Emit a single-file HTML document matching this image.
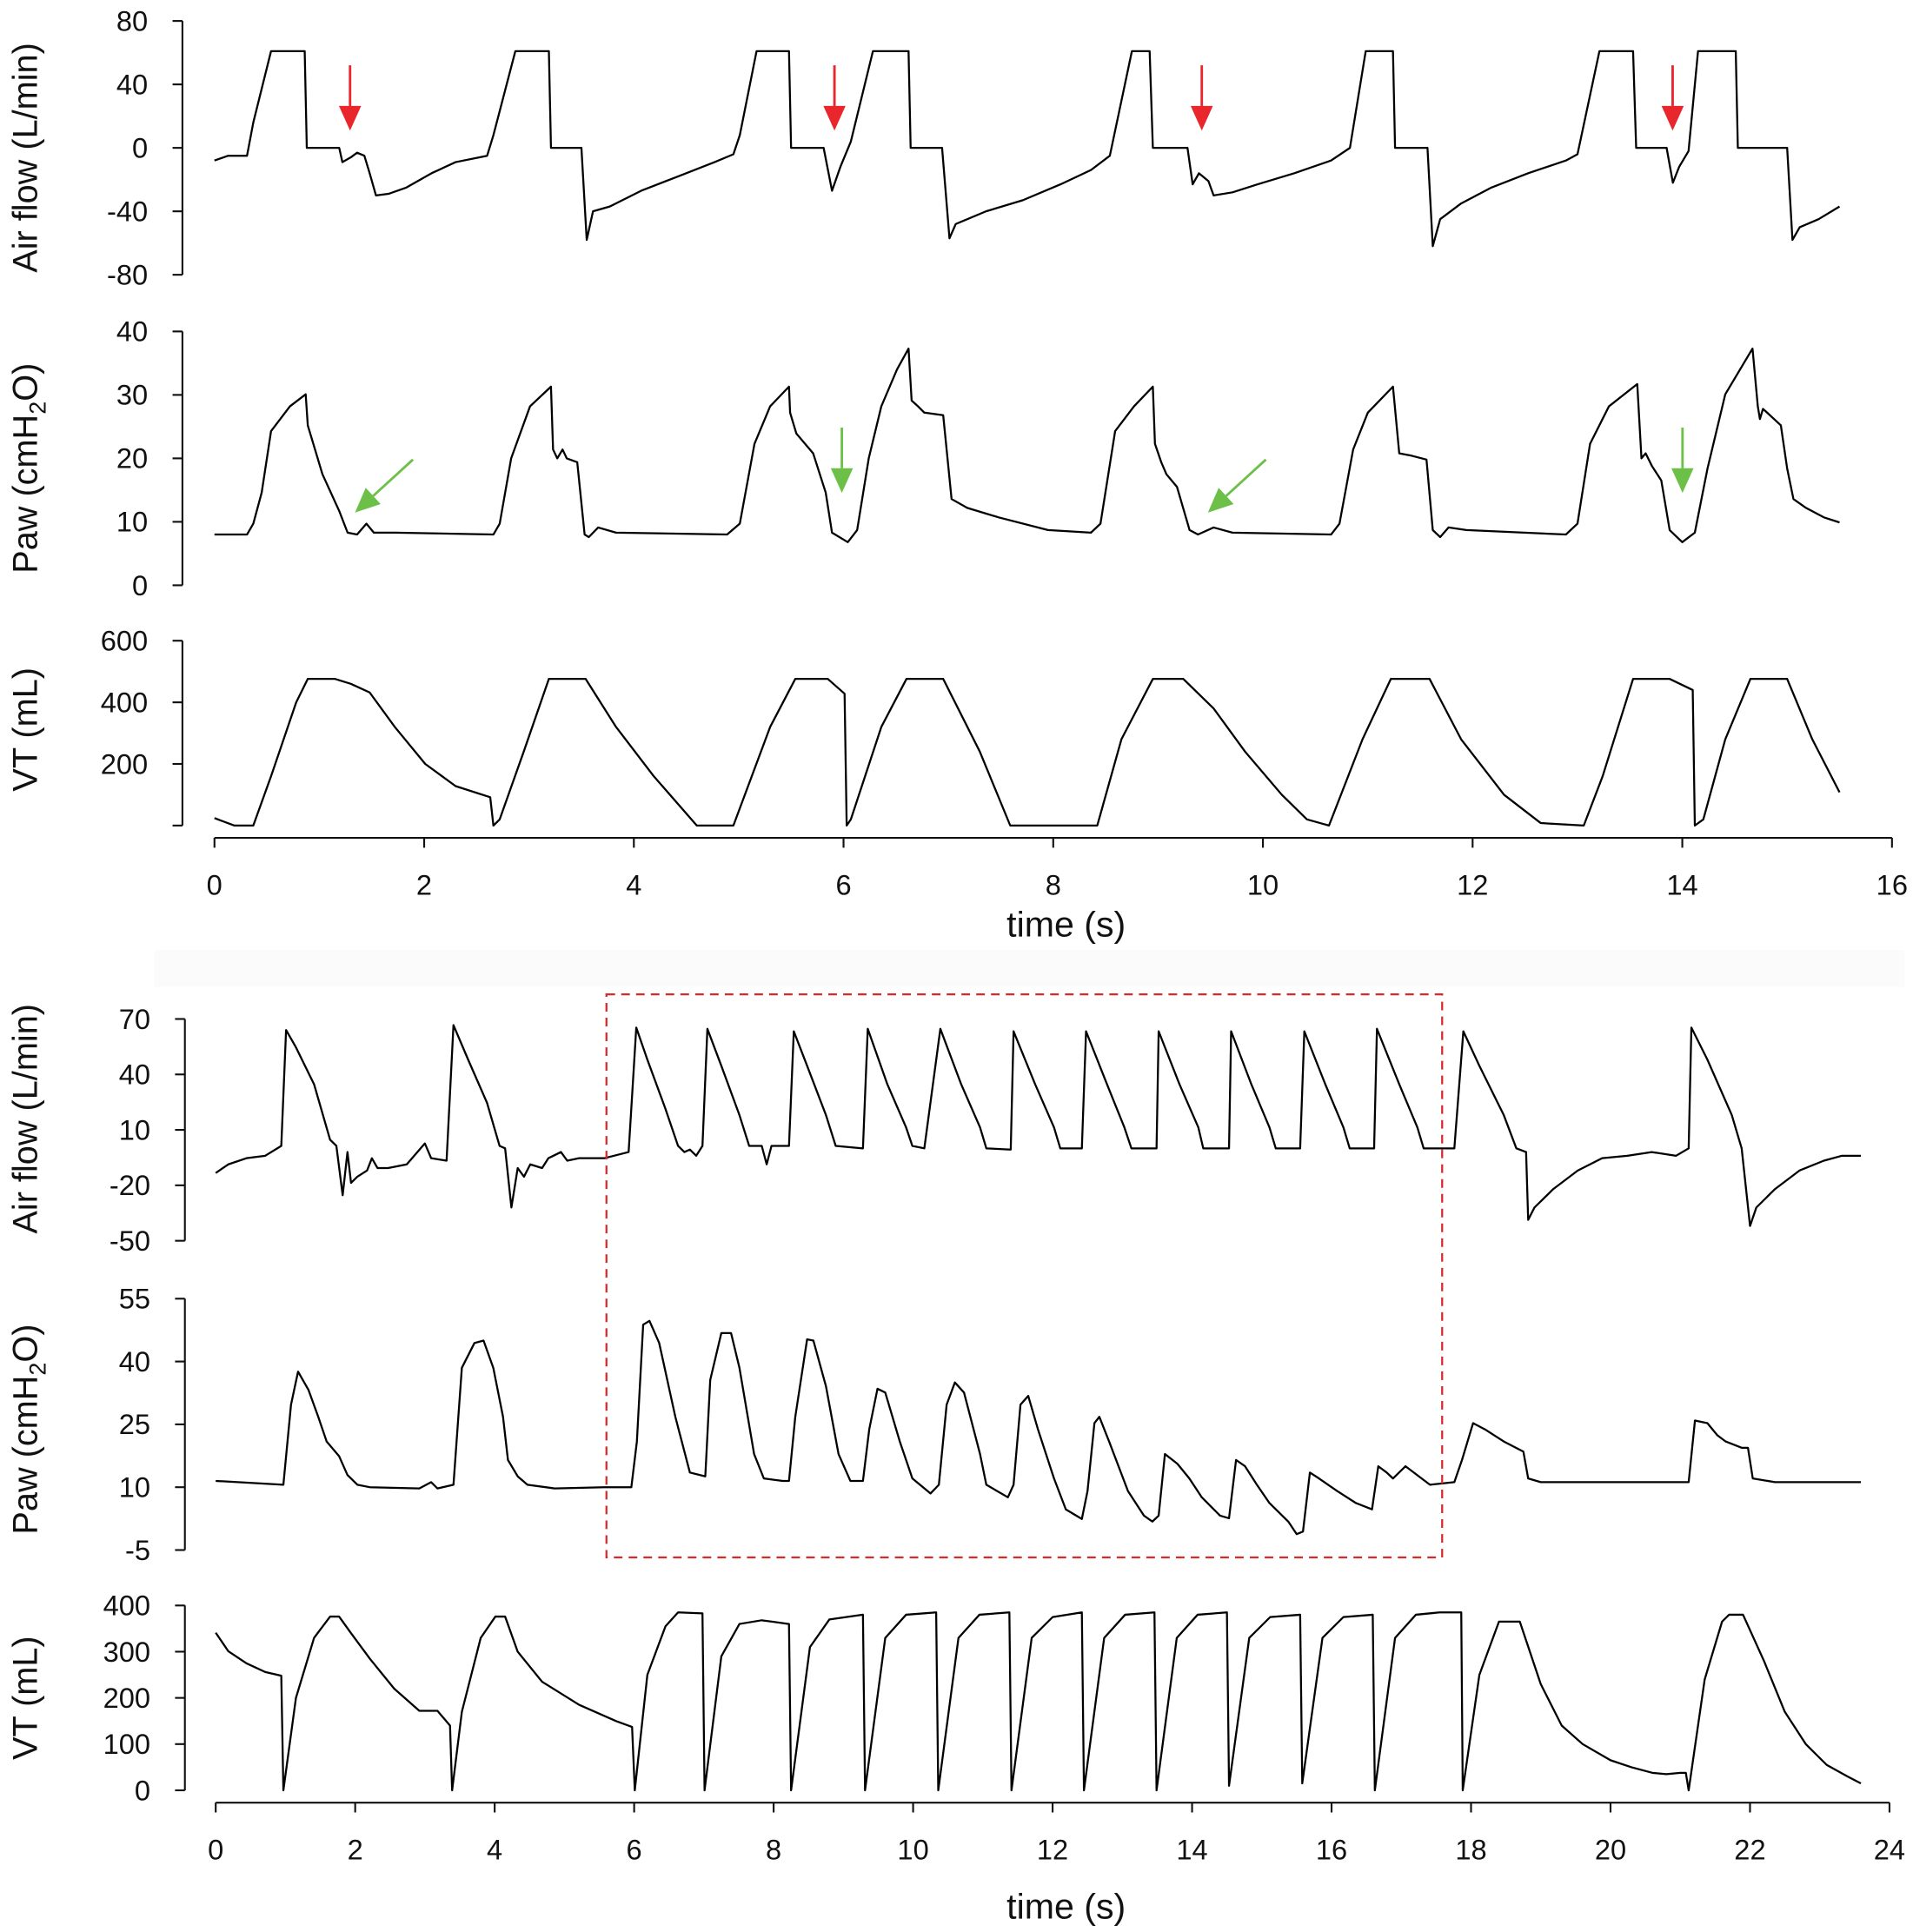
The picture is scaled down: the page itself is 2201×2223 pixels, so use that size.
<!DOCTYPE html>
<html><head><meta charset="utf-8"><style>
html,body{margin:0;padding:0;background:#fff}
svg{display:block}
text{font-family:"Liberation Sans",Arial,sans-serif;fill:#111}
</style></head><body>
<svg id="chart" width="2201" height="2223" viewBox="0 0 1552 1568" preserveAspectRatio="none" xmlns="http://www.w3.org/2000/svg">
<rect x="125" y="771" width="1420" height="30" fill="#fcfbfb"/>
<g id="root"></g>
</svg>
<script>
// ---------- DATA ----------
const topXTicks=[0,2,4,6,8,10,12,14,16];
const botXTicks=[0,2,4,6,8,10,12,14,16,18,20,22,24];
const topFlowTicks=[80,40,0,-40,-80];
const topPawTicks=[40,30,20,10,0];
const topVtTicks=[600,400,200];
const botFlowTicks=[70,40,10,-20,-50];
const botPawTicks=[55,40,25,10,-5];
const botVtTicks=[400,300,200,100,0];

const topFlow=[[0,-8],[0.13,-5],[0.31,-5],[0.37,16],[0.54,61],[0.86,61],[0.88,0],[1.19,0],[1.22,-9],[1.30,-6],[1.36,-3],[1.43,-5],[1.48,-16],[1.54,-30],[1.66,-29],[1.83,-25],[2.07,-16],[2.30,-9],[2.60,-5],[2.66,8],[2.87,61],[3.19,61],[3.21,0],[3.50,0],[3.55,-58],[3.61,-40],[3.77,-37],[4.07,-27],[4.42,-18],[4.77,-9],[4.95,-4],[5.01,8],[5.17,61],[5.48,61],[5.50,0],[5.81,0],[5.89,-27],[5.97,-12],[6.07,4],[6.28,61],[6.62,61],[6.64,0],[6.94,0],[7.01,-57],[7.07,-48],[7.36,-40],[7.71,-33],[8.07,-23],[8.36,-14],[8.54,-5],[8.75,61],[8.92,61],[8.95,0],[9.28,0],[9.33,-23],[9.39,-16],[9.48,-21],[9.53,-30],[9.71,-28],[9.95,-23],[10.30,-16],[10.65,-8],[10.83,0],[10.98,61],[11.24,61],[11.26,0],[11.57,0],[11.62,-62],[11.69,-45],[11.89,-35],[12.18,-25],[12.53,-16],[12.89,-8],[13.00,-4],[13.21,61],[13.53,61],[13.56,0],[13.85,0],[13.91,-22],[13.97,-12],[14.06,-2],[14.15,61],[14.51,61],[14.53,0],[15.00,0],[15.05,-58],[15.12,-50],[15.30,-45],[15.50,-37]];

const topPaw=[[0,8],[0.31,8],[0.37,9.7],[0.45,14.6],[0.54,24.3],[0.72,28.2],[0.87,30.1],[0.89,25.2],[1.03,17.5],[1.19,11.7],[1.27,8.3],[1.36,8],[1.45,9.7],[1.52,8.3],[1.72,8.3],[2.66,8],[2.72,9.7],[2.83,20],[3.01,28.2],[3.21,31.3],[3.23,21.4],[3.27,20],[3.32,21.4],[3.36,20],[3.46,19.4],[3.53,8],[3.57,7.6],[3.66,9.1],[3.83,8.3],[4.89,8],[5.01,9.7],[5.15,22.3],[5.30,28.2],[5.48,31.3],[5.49,27.2],[5.55,23.9],[5.71,20.8],[5.83,14.6],[5.89,8.3],[6.04,6.8],[6.13,8.7],[6.24,20],[6.36,28.2],[6.51,34],[6.62,37.3],[6.65,29.1],[6.71,28.2],[6.77,27.2],[6.95,26.8],[7.03,13.6],[7.18,12.2],[7.48,10.7],[7.95,8.7],[8.36,8.3],[8.45,9.7],[8.59,24.3],[8.77,28.2],[8.95,31.3],[8.97,22.3],[9.03,19.4],[9.08,17.5],[9.18,15.5],[9.30,8.7],[9.38,8],[9.53,9.1],[9.71,8.3],[10.65,8],[10.73,9.7],[10.86,21.4],[11.00,27.2],[11.24,31.3],[11.30,20.8],[11.42,20.4],[11.56,19.8],[11.62,8.7],[11.69,7.6],[11.77,9.1],[11.94,8.7],[12.89,8],[13.00,9.7],[13.12,22.3],[13.30,28.2],[13.57,31.7],[13.61,20],[13.65,20.8],[13.71,18.8],[13.80,16.5],[13.88,8.7],[14.00,6.8],[14.12,8.3],[14.24,18.4],[14.41,30.1],[14.67,37.3],[14.72,28.2],[14.74,26.2],[14.77,27.8],[14.94,25.2],[15.00,18.4],[15.06,13.6],[15.18,12.2],[15.35,10.7],[15.50,9.9]];

const topVt=[[0,24],[0.19,0],[0.37,0],[0.54,160],[0.78,400],[0.89,476],[1.15,476],[1.30,460],[1.48,432],[1.72,320],[2.01,200],[2.30,128],[2.63,92],[2.66,0],[2.72,20],[2.95,240],[3.19,476],[3.54,476],[3.83,320],[4.19,160],[4.60,0],[4.95,0],[5.30,320],[5.54,476],[5.85,476],[6.01,428],[6.03,0],[6.07,20],[6.36,320],[6.60,476],[6.95,476],[7.30,240],[7.59,0],[8.42,0],[8.65,280],[8.95,476],[9.24,476],[9.53,380],[9.83,240],[10.18,100],[10.42,20],[10.63,0],[10.95,280],[11.22,476],[11.59,476],[11.89,280],[12.30,100],[12.65,8],[13.06,0],[13.24,160],[13.53,476],[13.88,476],[14.10,440],[14.12,0],[14.20,20],[14.41,280],[14.65,476],[15.00,476],[15.24,280],[15.50,108]];

const botFlow=[[0,-13.3],[0.18,-8.7],[0.44,-5.3],[0.71,-4],[0.94,1.3],[1.01,64],[1.15,54.7],[1.41,34.7],[1.64,4.7],[1.73,1.3],[1.82,-25.3],[1.89,-2],[1.94,-18.7],[2.03,-15.3],[2.17,-12],[2.24,-5.3],[2.32,-10.7],[2.47,-10.7],[2.74,-8.7],[3.00,2.7],[3.09,-5.3],[3.31,-6.7],[3.41,66.7],[3.62,48],[3.89,24.7],[4.07,1.3],[4.15,0],[4.24,-32],[4.33,-10.7],[4.42,-15.3],[4.51,-8.7],[4.68,-10.7],[4.77,-5.3],[4.95,-2],[5.04,-6.7],[5.21,-5.3],[5.57,-5.3],[5.92,-2],[6.03,65.3],[6.19,48],[6.45,21.3],[6.63,1.3],[6.72,-2],[6.80,-0.7],[6.89,-4],[6.98,1.3],[7.05,64.7],[7.25,44.7],[7.51,18],[7.65,1.3],[7.83,1.3],[7.90,-8.7],[7.97,1.3],[8.22,1.3],[8.29,63.3],[8.48,44.7],[8.75,18],[8.89,1.3],[9.28,0],[9.35,64.7],[9.63,34.7],[9.90,11.3],[9.99,1.3],[10.16,0],[10.39,64.7],[10.69,34.7],[10.96,11.3],[11.05,0],[11.40,-0.7],[11.44,63.3],[11.75,34.7],[12.02,11.3],[12.11,0],[12.42,0],[12.48,63.3],[12.78,34.7],[13.03,11.3],[13.13,0],[13.49,0],[13.52,63.3],[13.82,34.7],[14.09,11.3],[14.16,0],[14.53,0],[14.56,63.3],[14.85,34.7],[15.11,11.3],[15.20,0],[15.55,0],[15.61,63.3],[15.91,34.7],[16.17,11.3],[16.26,0],[16.61,0],[16.65,64.7],[16.97,34.7],[17.23,11.3],[17.32,0],[17.59,0],[17.76,0],[17.89,63.3],[18.12,44.7],[18.47,18],[18.65,0],[18.79,-2],[18.82,-38.7],[18.91,-32],[19.18,-22],[19.53,-12],[19.88,-5.3],[20.24,-4],[20.59,-2],[20.94,-4],[21.12,0],[21.16,65.3],[21.39,48],[21.74,18],[21.88,0],[22.00,-42],[22.09,-32],[22.36,-22],[22.71,-12],[23.06,-6.7],[23.32,-4],[23.59,-4]];

const botPaw=[[0,11.5],[0.97,10.6],[1.08,29.7],[1.18,37.6],[1.33,33.2],[1.47,26.8],[1.59,20.9],[1.77,17.4],[1.89,12.9],[1.94,12.1],[2.03,10.6],[2.21,10],[2.92,9.7],[3.09,11.2],[3.18,9.7],[3.41,10.6],[3.53,38.5],[3.71,44.4],[3.84,45],[3.98,38.5],[4.12,26.8],[4.19,16.5],[4.33,12.6],[4.47,10.6],[4.86,9.7],[5.57,10],[5.96,10],[6.04,20.9],[6.13,48.8],[6.22,49.7],[6.36,44.4],[6.59,26.8],[6.80,13.5],[7.02,12.6],[7.09,35.6],[7.25,46.8],[7.39,46.8],[7.51,38.5],[7.72,17.9],[7.86,12.1],[8.13,11.5],[8.22,11.5],[8.31,26.8],[8.48,45.3],[8.57,45],[8.75,34.1],[8.93,17.9],[9.10,11.5],[9.28,11.5],[9.37,23.8],[9.49,33.5],[9.60,32.6],[9.81,20.9],[9.99,12.1],[10.25,8.5],[10.37,10.6],[10.48,29.7],[10.60,35],[10.73,32.6],[10.96,17.9],[11.05,10.6],[11.36,7.6],[11.44,10.6],[11.54,29.7],[11.65,31.8],[11.79,23.8],[12.02,12.1],[12.19,4.7],[12.42,2.4],[12.50,9.1],[12.60,25.3],[12.67,26.8],[12.81,20.9],[13.08,9.1],[13.31,3.2],[13.43,1.8],[13.52,3.2],[13.61,17.9],[13.79,15.6],[13.96,12.1],[14.14,7.6],[14.40,3.2],[14.53,2.6],[14.63,16.5],[14.76,15],[14.93,10.6],[15.11,6.2],[15.38,1.8],[15.50,-1.2],[15.59,-0.6],[15.69,13.5],[15.82,12.1],[16.08,9.1],[16.35,6.2],[16.58,4.7],[16.67,15],[16.79,13.5],[16.88,12.1],[17.06,15],[17.41,10.6],[17.76,11.2],[17.87,16.5],[18.03,25.3],[18.20,23.8],[18.47,20.9],[18.75,18.5],[18.82,12.1],[19.00,11.2],[19.88,11.2],[21.12,11.2],[21.21,25.9],[21.39,25.3],[21.53,22.4],[21.65,20.9],[21.88,19.4],[21.97,19.4],[22.04,12.1],[22.36,11.2],[23.59,11.2]];

const botVt=[[0,341],[0.18,301],[0.44,275],[0.71,256],[0.94,248],[0.97,0],[1.15,200],[1.41,330],[1.64,376],[1.77,376],[1.94,340],[2.21,285],[2.56,220],[2.92,172],[3.18,172],[3.36,140],[3.39,0],[3.53,170],[3.80,330],[4.01,376],[4.15,376],[4.33,300],[4.68,235],[5.21,185],[5.74,150],[5.97,137],[6.01,0],[6.19,250],[6.45,355],[6.63,385],[6.98,383],[7.01,0],[7.25,290],[7.51,360],[7.83,368],[8.22,360],[8.25,0],[8.52,310],[8.80,370],[9.28,380],[9.31,0],[9.60,330],[9.90,380],[10.33,385],[10.36,0],[10.65,330],[10.95,380],[11.38,385],[11.41,0],[11.70,330],[12.00,375],[12.42,385],[12.45,0],[12.74,330],[13.04,380],[13.46,385],[13.49,0],[13.78,330],[14.08,380],[14.50,385],[14.53,10],[14.82,330],[15.12,375],[15.55,380],[15.58,15],[15.87,330],[16.17,375],[16.59,380],[16.62,0],[16.91,330],[17.21,380],[17.55,385],[17.86,385],[17.88,0],[18.12,250],[18.40,365],[18.70,365],[19.00,230],[19.30,140],[19.60,100],[20.00,65],[20.30,50],[20.60,38],[20.80,35],[21.00,38],[21.08,38],[21.12,0],[21.35,240],[21.60,365],[21.70,380],[21.90,380],[22.20,280],[22.50,170],[22.80,100],[23.10,55],[23.40,30],[23.59,15]];

// ---------- AXES ----------
const tx=t=>174+t*85.06;
const bx=t=>175+t*56.58;
const yTopFlow=v=>120-v*51.5/40;
const yTopPaw=v=>475-v*5.15;
const yTopVt=v=>670-v*0.25;
const yBotFlow=v=>827+(70-v)*1.5;
const yBotPaw=v=>1207-(v-10)*3.4;
const yBotVt=v=>1453-v*0.375;

const NS="http://www.w3.org/2000/svg";
const root=document.getElementById('root');
function mk(tag,attrs,parent){const e=document.createElementNS(NS,tag);for(const k in attrs)e.setAttribute(k,attrs[k]);(parent||root).appendChild(e);return e;}

function yAxis(ticks,yf,axX,name){
  const g=mk('g',{});
  
  
  const ys=ticks.map(yf);
  mk('line',{x1:axX,x2:axX,y1:Math.min(...ys),y2:Math.max(...ys),stroke:'#111','stroke-width':1.5},g);
  ticks.forEach(v=>{
    const y=yf(v);
    mk('line',{x1:axX-8,x2:axX,y1:y,y2:y,stroke:'#111','stroke-width':1.5},g);
    const t=mk('text',{x:axX-28,y:y+8,'text-anchor':'end','font-size':23},g);
    t.textContent=v;
    
    
  });
}
function xAxis(ticks,xf,y,name){
  const g=mk('g',{});
  
  
  mk('line',{x1:xf(ticks[0]),x2:xf(ticks[ticks.length-1]),y1:y,y2:y,stroke:'#111','stroke-width':1.5},g);
  ticks.forEach(v=>{
    const x=xf(v);
    mk('line',{x1:x,x2:x,y1:y,y2:y+8,stroke:'#111','stroke-width':1.5},g);
    const t=mk('text',{x:x,y:y+46,'text-anchor':'middle','font-size':23},g);
    t.textContent=v;
    
    
  });
}
function series(data,xf,yf,name){
  const d=data.map((p,i)=>(i?'L':'M')+xf(p[0]).toFixed(1)+','+yf(p[1]).toFixed(1)).join('');
  const p=mk('path',{d:d,fill:'none',stroke:'#000','stroke-width':1.6,'stroke-linejoin':'round'});
  
  
}
function ytitle(cx,cy,txt,name,sub){
  const t=mk('text',{x:0,y:0,'text-anchor':'middle','font-size':28,transform:`translate(${cx},${cy}) rotate(-90)`});
  if(sub){
    t.appendChild(document.createTextNode('Paw (cmH'));
    const s=mk('tspan',{'font-size':19,dy:7},t);s.textContent='2';
    const r=mk('tspan',{dy:-7},t);r.textContent='O)';
  } else t.textContent=txt;
  
  
}

// top panel
yAxis(topFlowTicks,yTopFlow,148,'top-air-flow');
yAxis(topPawTicks,yTopPaw,148,'top-paw');
yAxis(topVtTicks,yTopVt,148,'top-vt');
mk('line',{x1:148,x2:148,y1:yTopVt(200),y2:670,stroke:'#111','stroke-width':1.5});
mk('line',{x1:140,x2:148,y1:670,y2:670,stroke:'#111','stroke-width':1.5});
xAxis(topXTicks,tx,680,'top');
series(topFlow,tx,yTopFlow,'top-air-flow-line');
series(topPaw,tx,yTopPaw,'top-paw-line');
series(topVt,tx,yTopVt,'top-vt-line');
ytitle(30,128,'Air flow (L/min)','top-air-flow-title');
ytitle(30,380,'','top-paw-title',true);
ytitle(30,592,'VT (mL)','top-vt-title');
{const t=mk('text',{x:865,y:760,'text-anchor':'middle','font-size':29});t.textContent='time (s)';

}

// bottom panel
yAxis(botFlowTicks,yBotFlow,150,'bottom-air-flow');
yAxis(botPawTicks,yBotPaw,150,'bottom-paw');
yAxis(botVtTicks,yBotVt,150,'bottom-vt');
xAxis(botXTicks,bx,1463,'bottom');
series(botFlow,bx,yBotFlow,'bottom-air-flow-line');
series(botPaw,bx,yBotPaw,'bottom-paw-line');
series(botVt,bx,yBotVt,'bottom-vt-line');
ytitle(30,908,'Air flow (L/min)','bottom-air-flow-title');
ytitle(30,1160,'','bottom-paw-title',true);
ytitle(30,1378,'VT (mL)','bottom-vt-title');
{const t=mk('text',{x:865,y:1557,'text-anchor':'middle','font-size':29});t.textContent='time (s)';

}

// dashed box
{const r=mk('rect',{x:492,y:807,width:678,height:457,fill:'none',stroke:'#d82a2a','stroke-width':1.6,'stroke-dasharray':'7,5'});

}

// arrows
function arrow(x1,y1,x2,y2,color,name){
  const g=mk('g',{});
  
  
  const dx=x2-x1,dy=y2-y1,L=Math.hypot(dx,dy),ux=dx/L,uy=dy/L;
  const hl=20,hw=9;
  const bxp=x2-ux*hl,byp=y2-uy*hl;
  mk('line',{x1:x1,y1:y1,x2:bxp,y2:byp,stroke:color,'stroke-width':2},g);
  mk('polygon',{points:`${x2},${y2} ${bxp-uy*hw},${byp+ux*hw} ${bxp+uy*hw},${byp-ux*hw}`,fill:color},g);
}
const redArrowX=[284,677,975,1357];
redArrowX.forEach(x=>arrow(x,53,x,106,'#e8262b','red-arrow'));
arrow(335,373,288,416,'#6cbf47','green-arrow');
arrow(683,347,683,400,'#6cbf47','green-arrow');
arrow(1027,373,980,416,'#6cbf47','green-arrow');
arrow(1365,347,1365,400,'#6cbf47','green-arrow');
</script>
</body></html>
